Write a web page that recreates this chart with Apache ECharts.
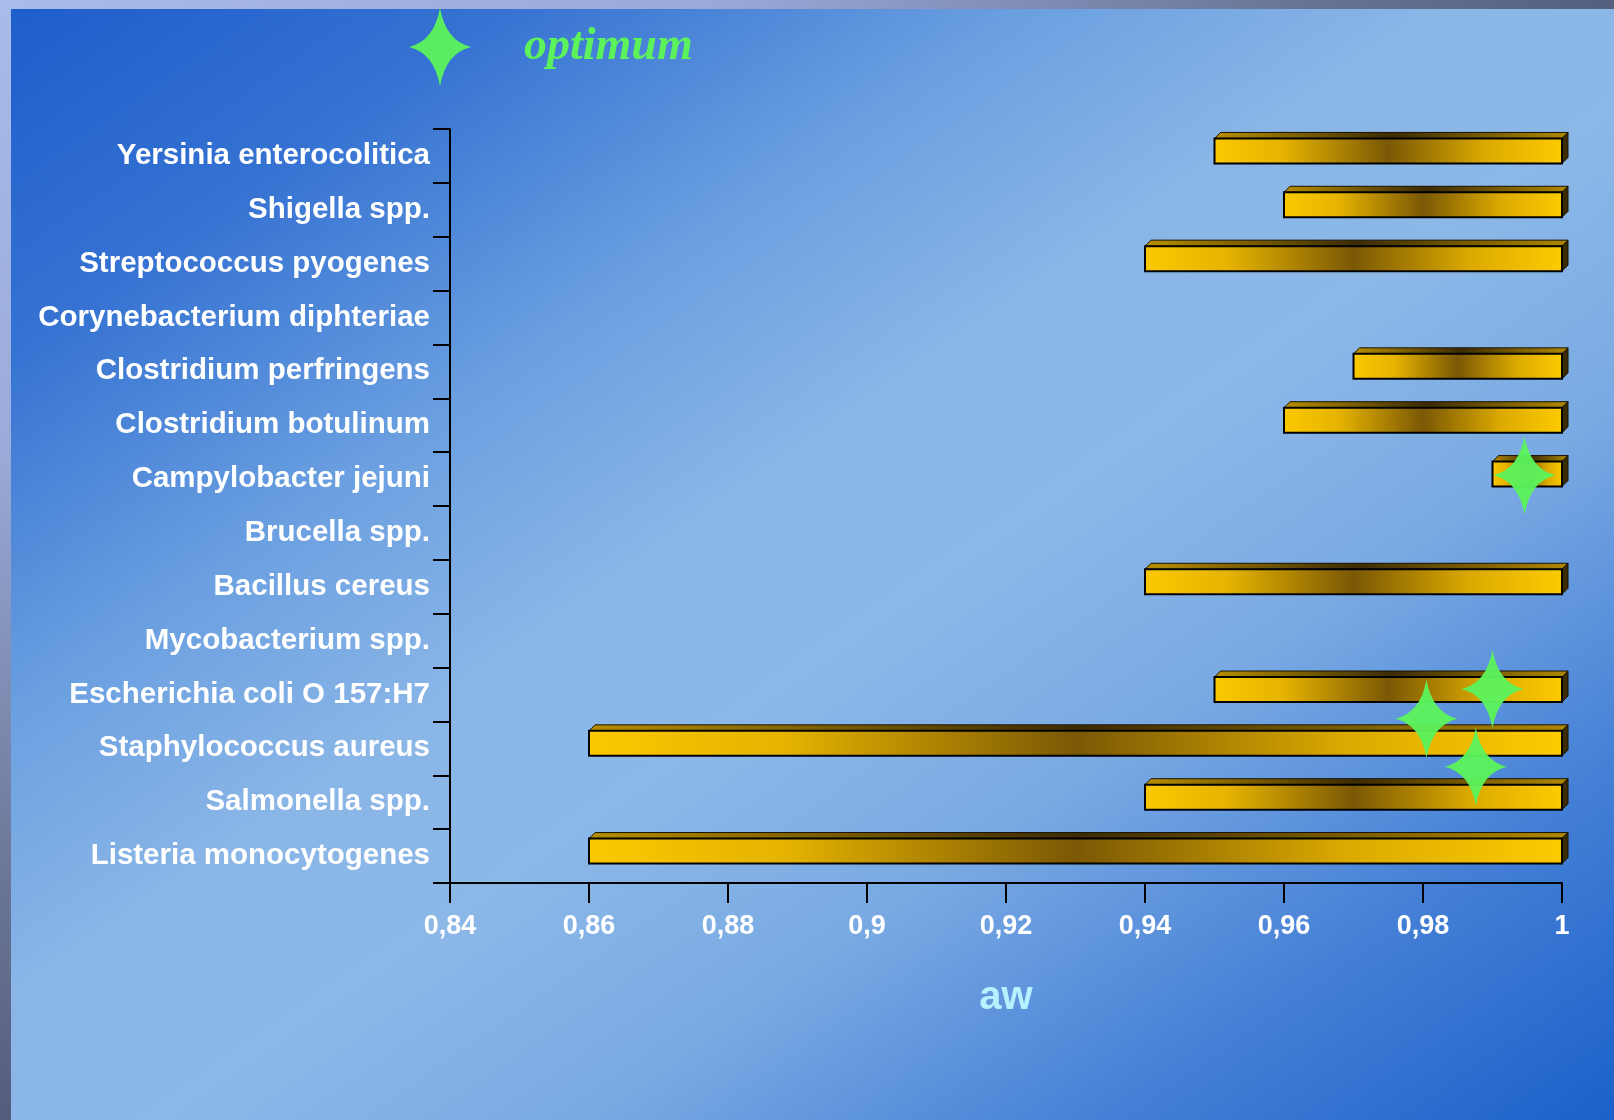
<!DOCTYPE html>
<html>
<head>
<meta charset="utf-8">
<title>aw</title>
<script src="https://cdn.jsdelivr.net/npm/echarts/dist/echarts.min.js"></script>
<style>
html, body {
    margin: 0;
    padding: 0;
    width: 1614px;
    height: 1120px;
    overflow: hidden;
}
body {
    position: relative;
    background: linear-gradient(to bottom right, #1d5dcb 0%, #3572d2 16%, #6a9fe0 32%, #8ab6e7 45%, #8cb8e8 55%, #7aaae3 68%, #4580d6 84%, #1b60c9 100%);
}
.strip-top {
    position: absolute; left: 0; top: 0; width: 1614px; height: 9px;
    background: linear-gradient(to right, #a9bbe9 0%, #98a8d8 45%, #6a7596 80%, #55607e 100%);
}
.strip-left {
    position: absolute; left: 0; top: 0; width: 11px; height: 1120px;
    background: linear-gradient(to bottom, #a9bbe9 0%, #9aabd9 40%, #6f7a9c 75%, #545c7c 100%);
}
#main {
    position: absolute; left: 0; top: 0;
    width: 1614px;
    height: 1120px;
}
</style>
</head>
<body>
<div class="strip-top"></div>
<div class="strip-left"></div>
<div id="main"></div>
<script>
// categories, bottom to top
var bacteria = [
    'Listeria monocytogenes',
    'Salmonella spp.',
    'Staphylococcus aureus',
    'Escherichia coli O 157:H7',
    'Mycobacterium spp.',
    'Bacillus cereus',
    'Brucella spp.',
    'Campylobacter jejuni',
    'Clostridium botulinum',
    'Clostridium perfringens',
    'Corynebacterium diphteriae',
    'Streptococcus pyogenes',
    'Shigella spp.',
    'Yersinia enterocolitica'
];
// minimum / maximum water activity (null = no bar)
var awMin = [0.86, 0.94, 0.86, 0.95, null, 0.94, null, 0.99, 0.96, 0.97, null, 0.94, 0.96, 0.95];
var awMax = [1, 1, 1, 1, null, 1, null, 1, 1, 1, null, 1, 1, 1];

// optimum stars: aw value and row position (category index, fractional)
var optimumAw = [0.9946, 0.99, 0.9805, 0.9876];
var optimumRow = [7.07, 3.1, 2.55, 1.66];

var starPath = 'path://M0,-39 Q6,-6 31,0 Q6,6 0,39 Q-6,6 -31,0 Q-6,-6 0,-39 Z';

var barData = [];
for (var i = 0; i < bacteria.length; i++) {
    if (awMin[i] != null) barData.push([awMin[i], awMax[i], i]);
}
var starData = optimumAw.map(function (v, k) { return [v, optimumRow[k]]; });

function renderBar(params, api) {
    var lo = api.coord([api.value(0), api.value(2)]);
    var hi = api.coord([api.value(1), api.value(2)]);
    var h = 25, d = 6;
    var x0 = lo[0], x1 = hi[0];
    var yTop = lo[1] - 5 - h / 2;
    var yBot = yTop + h;
    var front = new echarts.graphic.LinearGradient(0, 0, 1, 0, [
        {offset: 0, color: '#fbc900'},
        {offset: 0.2, color: '#e6b300'},
        {offset: 0.5, color: '#7a5805'},
        {offset: 0.78, color: '#dcaa00'},
        {offset: 1, color: '#fdcb00'}
    ]);
    var top = new echarts.graphic.LinearGradient(0, 0, 1, 0, [
        {offset: 0, color: '#b88e00'},
        {offset: 0.5, color: '#3c2b00'},
        {offset: 1, color: '#b08800'}
    ]);
    return {
        type: 'group',
        children: [{
            type: 'polygon',
            shape: {points: [[x0, yTop], [x0 + d, yTop - d], [x1 + d, yTop - d], [x1, yTop]]},
            style: {fill: top, stroke: '#1a1200', lineWidth: 1}
        }, {
            type: 'polygon',
            shape: {points: [[x1, yTop], [x1 + d, yTop - d], [x1 + d, yBot - d], [x1, yBot]]},
            style: {fill: '#3a2b00', stroke: '#1a1200', lineWidth: 1}
        }, {
            type: 'rect',
            shape: {x: x0, y: yTop, width: x1 - x0, height: h},
            style: {fill: front, stroke: '#000', lineWidth: 2}
        }]
    };
}

var myChart = echarts.init(document.getElementById('main'));
var option = {
    backgroundColor: 'transparent',
    animation: false,
    legend: {
        left: 404,
        top: 3,
        itemWidth: 62,
        itemHeight: 78,
        data: [{name: 'optimum', icon: starPath}],
        textStyle: {
            color: '#5cf25c',
            fontFamily: 'Liberation Serif',
            fontStyle: 'italic',
            fontWeight: 'bold',
            fontSize: 46,
            padding: [0, 0, 0, 48]
        }
    },
    grid: {
        left: 450,
        right: 52,
        top: 129,
        bottom: 237,
        containLabel: false
    },
    xAxis: {
        type: 'value',
        min: 0.84,
        max: 1,
        interval: 0.02,
        name: 'aw',
        nameLocation: 'middle',
        nameGap: 95,
        nameTextStyle: {
            color: '#b4f2ff',
            fontFamily: 'Liberation Sans',
            fontWeight: 'bold',
            fontSize: 40
        },
        splitLine: {show: false},
        axisLine: {show: true, onZero: false, lineStyle: {color: '#000', width: 2}},
        axisTick: {show: true, length: 20, lineStyle: {color: '#000', width: 2}},
        axisLabel: {
            margin: 30,
            color: '#fff',
            fontFamily: 'Liberation Sans',
            fontWeight: 'bold',
            fontSize: 27,
            formatter: function (v) {
                return String(+v.toFixed(2)).replace('.', ',');
            }
        }
    },
    yAxis: [{
        type: 'category',
        data: bacteria,
        axisLine: {show: true, onZero: false, lineStyle: {color: '#000', width: 2}},
        axisTick: {show: true, length: 17, lineStyle: {color: '#000', width: 2}},
        axisLabel: {
            margin: 20,
            color: '#fff',
            fontFamily: 'Liberation Sans',
            fontWeight: 'bold',
            fontSize: 29.5,
            padding: [6, 0, 0, 0]
        }
    }, {
        type: 'value',
        min: -0.5,
        max: 13.5,
        show: false
    }],
    series: [{
        type: 'custom',
        name: 'aw range',
        renderItem: renderBar,
        encode: {x: [0, 1], y: 2},
        data: barData,
        z: 2
    }, {
        type: 'scatter',
        name: 'optimum',
        yAxisIndex: 1,
        symbol: starPath,
        symbolSize: [62, 78],
        itemStyle: {color: '#5cf25c', opacity: 0.96},
        data: starData,
        z: 5
    }]
};
myChart.setOption(option);
</script>
</body>
</html>
